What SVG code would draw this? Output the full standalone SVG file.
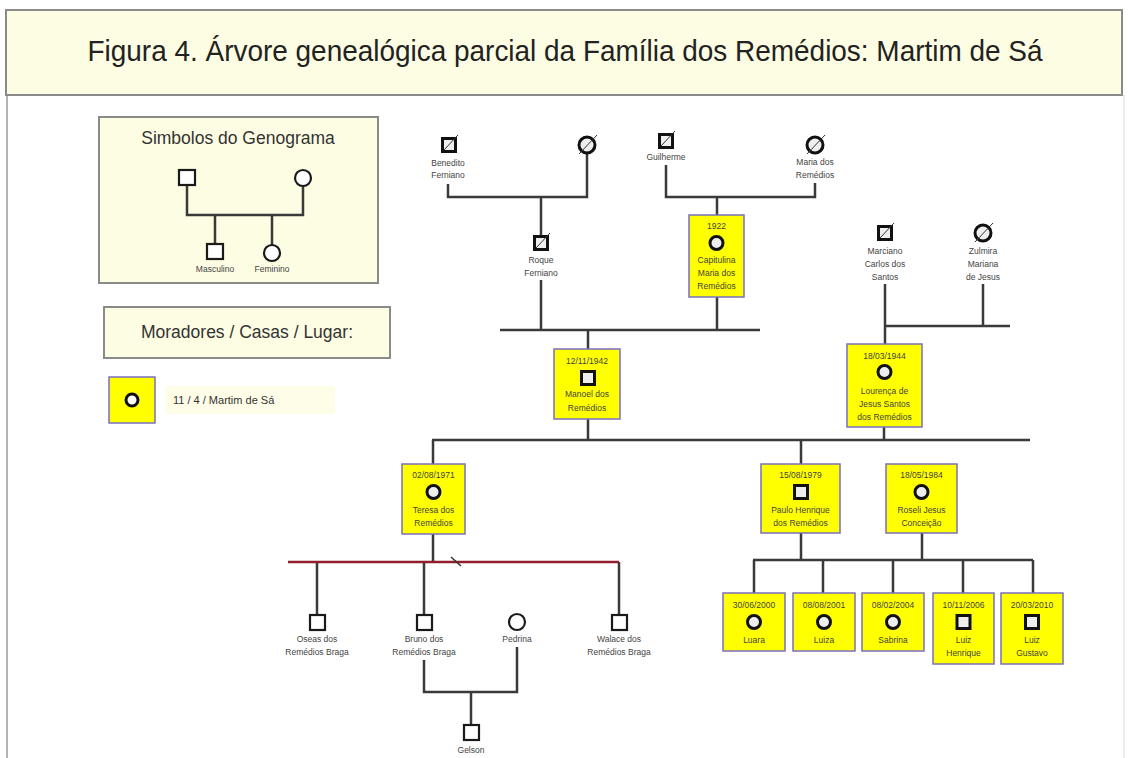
<svg xmlns="http://www.w3.org/2000/svg" width="1128" height="758" viewBox="0 0 1128 758">
<style>
.ln{stroke:#3a3a3a;stroke-width:2.5;fill:none}
.red{stroke:#8e1f2b;stroke-width:2.5;fill:none}
.box{fill:#ffff00;stroke:#7a6fc0;stroke-width:1.5}
.sym{fill:#eeeeee;stroke:#111111;stroke-width:3}
.osym{fill:#ffffff;stroke:#1a1a1a;stroke-width:2.2}
.sl{stroke:#333;stroke-width:1}
.t{font-family:"Liberation Sans",Arial,sans-serif;font-size:8.5px;fill:#444;text-anchor:middle}
.leg{fill:#fdfde3;stroke:#8a8a8a;stroke-width:2}
.lt{font-family:"Liberation Sans",Arial,sans-serif;font-size:17.5px;fill:#333;text-anchor:middle}
</style>
<rect width="1128" height="758" fill="#ffffff"/>
<line x1="7" y1="95" x2="7" y2="758" stroke="#9a9a9a" stroke-width="1.5"/>
<line x1="1124" y1="95" x2="1124" y2="758" stroke="#e4e4e4" stroke-width="1.5"/>
<g id="title">
<rect x="6" y="10" width="1116" height="85" fill="#fdfde3" stroke="#8a8a8a" stroke-width="2"/>
<text x="565" y="61" font-family="Liberation Sans, Arial, sans-serif" font-size="30" fill="#222" text-anchor="middle" textLength="955" lengthAdjust="spacingAndGlyphs">Figura 4. Árvore genealógica parcial da Família dos Remédios: Martim de Sá</text>
</g>
<g id="legend-symbols">
<rect x="99" y="117" width="279" height="166" class="leg"/>
<text x="238" y="144" class="lt">Simbolos do Genograma</text>
<path d="M187 185V215H303V186M215 215V244M272 215V245" class="ln"/>
<rect x="179" y="170" width="16" height="15" class="osym" stroke-width="2.5"/>
<circle cx="303" cy="178" r="8" class="osym" stroke-width="2.5"/>
<rect x="207" y="244" width="16" height="15" class="osym" stroke-width="2.5"/>
<circle cx="272" cy="253" r="8" class="osym" stroke-width="2.5"/>
<text x="215" y="272" class="t" font-size="6.5">Masculino</text>
<text x="272" y="272" class="t" font-size="6.5">Feminino</text>
</g>
<g id="legend-moradores">
<rect x="104" y="307" width="286" height="51" class="leg"/>
<text x="247" y="338" class="lt">Moradores / Casas / Lugar:</text>
</g>
<g id="legend-item">
<rect x="109" y="377" width="46" height="46" class="box" stroke-width="2"/>
<circle cx="132" cy="400" r="6" fill="#fff" stroke="#111" stroke-width="3"/>
<rect x="165" y="386" width="170" height="28" fill="#fdfde8"/>
<text x="173" y="404" font-family="Liberation Sans, Arial, sans-serif" font-size="11" fill="#333">11 / 4 / Martim de Sá</text>
</g>
<g id="connectors">
<path d="M448 184V197H587V153M541 197V236" class="ln"/>
<path d="M541 280V330M500 330H760M717 297V330M588 330V349" class="ln"/>
<path d="M666 165V197H815V183M717 197V215" class="ln"/>
<path d="M885 284V344M983 284V326M885 326H1010" class="ln"/>
<path d="M884 427V440M588 419V440M432 440H1030M433 440V464M801 440V464" class="ln"/>
<path d="M433 534V562" class="ln"/>
<path d="M801 533V560M922 533V560M753 560H1033M754 560V593M823 560V593M893 560V593M963 560V593M1033 560V593" class="ln"/>
<path d="M317 562V615M424 562V615M619 562V615" class="ln"/>
<path d="M288 562H619" class="red"/>
<line x1="451" y1="557" x2="461" y2="566" stroke="#333" stroke-width="1.5"/>
<path d="M424 660V692H517V647M471 692V725" class="ln"/>
</g>
<g id="benedito">
<rect x="442.5" y="138.5" width="13" height="13" class="sym"/>
<line x1="444" y1="150" x2="458" y2="135" class="sl"/>
<text x="448" y="166" class="t">Benedito</text>
<text x="448" y="178" class="t">Ferniano</text>
</g>
<g id="esposa-benedito">
<circle cx="587" cy="145" r="8" class="sym"/>
<line x1="579" y1="154" x2="597" y2="135" class="sl"/>
</g>
<g id="guilherme">
<rect x="659.5" y="134.5" width="13" height="13" class="sym"/>
<line x1="661" y1="146" x2="675" y2="131" class="sl"/>
<text x="666" y="160" class="t">Guilherme</text>
</g>
<g id="maria-remedios">
<circle cx="815" cy="145" r="8" class="sym"/>
<line x1="807" y1="154" x2="825" y2="135" class="sl"/>
<text x="815" y="165" class="t">Maria dos</text>
<text x="815" y="178" class="t">Remédios</text>
</g>
<g id="roque">
<rect x="534.5" y="236.5" width="13" height="13" class="sym"/>
<line x1="536" y1="248" x2="550" y2="233" class="sl"/>
<text x="541" y="263" class="t">Roque</text>
<text x="541" y="276" class="t">Ferniano</text>
</g>
<g id="capitulina">
<rect x="689" y="215" width="55" height="82" class="box"/>
<text x="716.5" y="229" class="t">1922</text>
<circle cx="716.5" cy="243" r="6.5" class="sym"/>
<text x="716.5" y="263" class="t">Capitulina</text>
<text x="716.5" y="276" class="t">Maria dos</text>
<text x="716.5" y="289" class="t">Remédios</text>
</g>
<g id="manoel">
<rect x="554" y="349" width="66" height="70" class="box"/>
<text x="587" y="364" class="t">12/11/1942</text>
<rect x="581.5" y="371.5" width="13" height="13" class="sym"/>
<text x="587" y="397" class="t">Manoel  dos</text>
<text x="587" y="411" class="t">Remédios</text>
</g>
<g id="marciano">
<rect x="878.5" y="226.5" width="13" height="13" class="sym"/>
<line x1="880" y1="238" x2="894" y2="223" class="sl"/>
<text x="885" y="254" class="t">Marciano</text>
<text x="885" y="267" class="t">Carlos dos</text>
<text x="885" y="280" class="t">Santos</text>
</g>
<g id="zulmira">
<circle cx="983" cy="233" r="8" class="sym"/>
<line x1="975" y1="242" x2="993" y2="223" class="sl"/>
<text x="983" y="254" class="t">Zulmira</text>
<text x="983" y="267" class="t">Mariana</text>
<text x="983" y="280" class="t">de Jesus</text>
</g>
<g id="lourenca">
<rect x="847" y="344" width="75" height="83" class="box"/>
<text x="884.5" y="359" class="t">18/03/1944</text>
<circle cx="884.5" cy="372" r="6.5" class="sym"/>
<text x="884.5" y="394" class="t">Lourença de</text>
<text x="884.5" y="407" class="t">Jesus Santos</text>
<text x="884.5" y="420" class="t">dos Remédios</text>
</g>
<g id="teresa">
<rect x="402" y="464" width="63" height="70" class="box"/>
<text x="433.5" y="478" class="t">02/08/1971</text>
<circle cx="433.5" cy="492" r="6.5" class="sym"/>
<text x="433.5" y="513" class="t">Teresa dos</text>
<text x="433.5" y="526" class="t">Remédios</text>
</g>
<g id="paulo">
<rect x="761" y="464" width="79" height="69" class="box"/>
<text x="800.5" y="478" class="t">15/08/1979</text>
<rect x="794.5" y="485.5" width="13" height="13" class="sym"/>
<text x="800.5" y="513" class="t">Paulo Henrique</text>
<text x="800.5" y="526" class="t">dos Remédios</text>
</g>
<g id="roseli">
<rect x="886" y="464" width="71" height="69" class="box"/>
<text x="921.5" y="478" class="t">18/05/1984</text>
<circle cx="921.5" cy="492" r="6.5" class="sym"/>
<text x="921.5" y="513" class="t">Roseli  Jesus</text>
<text x="921.5" y="526" class="t">Conceição</text>
</g>
<g id="luara">
<rect x="723" y="593" width="62" height="58" class="box"/>
<text x="754" y="608" class="t">30/06/2000</text>
<circle cx="754" cy="622" r="6.5" class="sym"/>
<text x="754" y="643" class="t">Luara</text>
</g>
<g id="luiza">
<rect x="793" y="593" width="62" height="58" class="box"/>
<text x="824" y="608" class="t">08/08/2001</text>
<circle cx="824" cy="622" r="6.5" class="sym"/>
<text x="824" y="643" class="t">Luiza</text>
</g>
<g id="sabrina">
<rect x="862" y="593" width="62" height="58" class="box"/>
<text x="893" y="608" class="t">08/02/2004</text>
<circle cx="893" cy="622" r="6.5" class="sym"/>
<text x="893" y="643" class="t">Sabrina</text>
</g>
<g id="luiz-henrique">
<rect x="933" y="593" width="61" height="71" class="box"/>
<text x="963.5" y="608" class="t">10/11/2006</text>
<rect x="957" y="615.5" width="13" height="13" class="sym"/>
<text x="963.5" y="643" class="t">Luiz</text>
<text x="963.5" y="656" class="t">Henrique</text>
</g>
<g id="luiz-gustavo">
<rect x="1001" y="593" width="62" height="71" class="box"/>
<text x="1032" y="608" class="t">20/03/2010</text>
<rect x="1025.5" y="615.5" width="13" height="13" class="sym"/>
<text x="1032" y="643" class="t">Luiz</text>
<text x="1032" y="656" class="t">Gustavo</text>
</g>
<g id="oseas">
<rect x="310" y="615" width="15" height="15" class="osym"/>
<text x="317" y="642" class="t">Oseas  dos</text>
<text x="317" y="655" class="t">Remédios  Braga</text>
</g>
<g id="bruno">
<rect x="417" y="615" width="15" height="15" class="osym"/>
<text x="424" y="642" class="t">Bruno dos</text>
<text x="424" y="655" class="t">Remédios  Braga</text>
</g>
<g id="pedrina">
<circle cx="517" cy="622" r="8" class="osym"/>
<text x="517" y="642" class="t">Pedrina</text>
</g>
<g id="walace">
<rect x="612" y="615" width="15" height="15" class="osym"/>
<text x="619" y="642" class="t">Walace dos</text>
<text x="619" y="655" class="t">Remédios  Braga</text>
</g>
<g id="gelson">
<rect x="464" y="725" width="15" height="15" class="osym"/>
<text x="471" y="753" class="t">Gelson</text>
</g>
</svg>
